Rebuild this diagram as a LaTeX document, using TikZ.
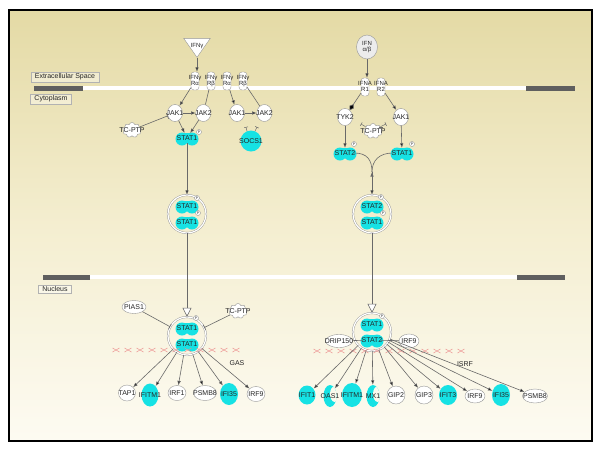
\documentclass[tikz,border=0pt]{standalone}
\usepackage{fontspec}
\setmainfont{Liberation Sans}
\usetikzlibrary{positioning}
\usetikzlibrary{arrows.meta}
\usetikzlibrary{shapes.geometric,shapes.symbols}
\definecolor{hitcyan}{RGB}{22,226,228}
\definecolor{linegray}{RGB}{105,105,105}
\definecolor{shapegray}{RGB}{150,150,150}
\definecolor{membdark}{RGB}{95,95,95}
\definecolor{bgtop}{RGB}{228,218,165}
\definecolor{bgmid}{RGB}{244,238,208}
\definecolor{bgbot}{RGB}{253,251,242}
\definecolor{bite}{RGB}{251,249,236}
\definecolor{dnared}{RGB}{236,140,140}
\pgfdeclarelayer{bg}
\pgfsetlayers{bg,main}
\newcommand{\stack}[2]{\begin{tabular}{@{}c@{}}#1\\#2\end{tabular}}
\renewcommand{\arraystretch}{0.75}
\tikzset{
shp/.style={
  inner sep=0pt,
  draw=shapegray,
  fill=white,
  execute at begin node={\hbox to 0pt\bgroup\hss},
  execute at end node={\hss\egroup}
  },
gene/.style={shp, ellipse, minimum width=18pt, minimum height=15pt},
hit/.style={gene, draw=none, fill=hitcyan},
cresc/.style={hit, minimum width=13pt, minimum height=22pt,
  path picture={\fill[bite] ([xshift=5pt,yshift=2pt]path picture bounding box.center) ellipse (5pt and 8pt);}},
stat/.style={hit, minimum width=18pt, minimum height=10pt},
kin/.style={gene, minimum width=15pt, minimum height=17pt},
recp/.style={shp, rectangle, rounded corners=3pt, minimum width=8pt, minimum height=18pt, font=\fontsize{6}{6}\selectfont},
ptp/.style={shp, cloud, cloud puffs=9, minimum width=19pt, minimum height=15pt},
cytokine/.style={shp, isosceles triangle, shape border rotate=-90, isosceles triangle apex angle=70, minimum width=18pt, minimum height=19pt, font=\fontsize{6}{6}\selectfont},
ligand/.style={shp, ellipse, fill=gray!15, minimum width=21pt, minimum height=24pt, font=\fontsize{6}{6}\selectfont},
cplx/.style={circle, draw=shapegray, double=white, double distance=1.2pt, minimum size=38pt, inner sep=0pt},
phos/.style={circle, draw=shapegray, fill=white, inner sep=0pt, minimum size=5pt, font=\fontsize{3.5}{3.5}\selectfont},
comp/.style={draw=gray!60, fill=white, fill opacity=0.4, text opacity=1, inner xsep=4pt, inner ysep=1.5pt},
site/.style={inner sep=1pt},
act/.style={->, draw=linegray, line width=0.6pt},
inh/.style={-{Bar[width=6pt]}, draw=linegray, line width=0.6pt},
stub/.style={-{Bar[width=4pt]}, draw=linegray, line width=0.5pt},
bind/.style={-, draw=linegray, line width=0.6pt},
trans/.style={-{Triangle[length=9pt, width=9pt, fill=white]}, draw=linegray, line width=0.6pt},
dnax/.style={draw=dnared, line width=0.6pt, draw opacity=0.8},
membrane/.style={draw=shapegray, line width=0.6pt, double=white, double distance=3.5pt},
membend/.style={draw=membdark, line width=5pt}
}

\begin{document}
\begin{tikzpicture}[x=1pt,y=-1pt,>={Latex[length=4.5pt,width=3.5pt]},font=\fontsize{7}{8}\selectfont,text=black!85]
\begin{pgfonlayer}{bg}
\fill[white] (0,0) rectangle (600,451);
\shade[top color=bgtop, bottom color=bgbot, middle color=bgmid] (9,10) rectangle (592,441);
\end{pgfonlayer}
\useasboundingbox (0,0) rectangle (600,451);
\draw[line width=1.1pt] (9,10) rectangle (592,441);

% membranes
\draw[membrane] (34,88) -- (575,88);
\draw[membend] (34,88) -- (83,88);
\draw[membend] (526,88) -- (575,88);
\draw[membrane] (43,277) -- (565,277);
\draw[membend] (43,277) -- (90,277);
\draw[membend] (517,277) -- (565,277);

\node[comp] (ecs)       at (65,77)  {Extracellular Space};
\node[comp] (cytoplasm) at (51,99)  {Cytoplasm};
\node[comp] (nucleus)   at (55,289) {Nucleus};

% IFN-gamma branch
\node[cytokine] (ifng) at (197,46) {IFNγ};
\node[recp] (rga1) at (195,81) {\stack{IFNγ}{Rα}};
\node[recp] (rgb1) at (211,81) {\stack{IFNγ}{Rβ}};
\node[recp] (rga2) at (227,81) {\stack{IFNγ}{Rα}};
\node[recp] (rgb2) at (243,81) {\stack{IFNγ}{Rβ}};
\node[kin]  (jak1a) at (175,113) {JAK1};
\node[kin]  (jak2a) [right=13pt of jak1a] {JAK2};
\node[kin]  (jak1b) at (237,113) {JAK1};
\node[kin]  (jak2b) [right=12pt of jak1b] {JAK2};
\node[ptp]  (tcptp1) at (132,130) {TC-PTP};
\node[stat] (st1a) at (187,138) {STAT1};
\node[hit, minimum width=21pt, minimum height=21pt] (socs1) at (251,141) {SOCS1};
\coordinate (s1l) at (246,127);
\coordinate (s1r) at (257,127);

% IFN-alpha/beta branch
\node[ligand] (ifnab) at (367,47) {\stack{IFN}{α/β}};
\node[recp] (ifnar1) at (365,87) {\stack{IFNA}{R1}};
\node[recp] (ifnar2) at (381,87) {\stack{IFNA}{R2}};
\node[kin]  (tyk2) at (345,117) {TYK2};
\node[kin]  (jak1c) at (401,117) {JAK1};
\node[ptp]  (tcptp2) at (373,131) {TC-PTP};
\coordinate (t2l) at (361,124);
\coordinate (t2r) at (386,124);
\node[stat] (st2a) at (345,153) {STAT2};
\node[stat] (st1b) at (402,153) {STAT1};
\coordinate (mrg) at (372,172);

% dimers in the cytoplasm
\node[cplx] (d1) at (187,214) {};
\node[stat] (d1a) at (187,206) {STAT1};
\node[stat] (d1b) at (187,222) {STAT1};
\node[cplx] (d2) at (372,214) {};
\node[stat] (d2a) at (372,206) {STAT2};
\node[stat] (d2b) at (372,222) {STAT1};

% nucleus, GAS side
\node[cplx] (n1) at (187,336) {};
\node[stat] (n1a) at (187,328) {STAT1};
\node[stat] (n1b) at (187,344) {STAT1};
\node[gene, minimum width=24pt, minimum height=13pt] (pias1) at (134,307) {PIAS1};
\node[ptp] (tcptp3) at (238,311) {TC-PTP};
\node[site] (gas) at (237,363) {GAS};
\node[gene, minimum width=17pt, minimum height=16pt] (tap1) at (127,393) {TAP1};
\node[hit, minimum width=17pt, minimum height=23pt] (ifitm1a) at (150,395) {IFITM1};
\node[gene] (irf1) at (177,393) {IRF1};
\node[gene, minimum width=23pt] (psmb8a) at (205,393) {PSMB8};
\node[hit, minimum width=18pt, minimum height=22pt] (ifi35a) at (229,394) {IFI35};
\node[gene] (irf9a) at (256,394) {IRF9};

% nucleus, ISRE side
\node[cplx] (n2) at (372,332) {};
\node[stat] (n2a) at (372,324) {STAT1};
\node[stat] (n2b) at (372,340) {STAT2};
\node[gene, minimum width=27pt, minimum height=13pt] (drip150) at (339,341) {DRIP150};
\node[gene, minimum width=20pt, minimum height=14pt] (irf9n) at (409,341) {IRF9};
\node[site] (isrf) at (465,364) {ISRF};
\node[hit, minimum width=17pt, minimum height=19pt] (ifit1) at (307,395) {IFIT1};
\node[cresc] (oas1) at (330,396) {OAS1};
\node[hit, minimum width=20pt, minimum height=24pt] (ifitm1b) at (352,395) {IFITM1};
\node[cresc] (mx1) at (373,396) {MX1};
\node[gene, minimum width=18pt, minimum height=18pt] (gip2) at (396,395) {GIP2};
\node[gene, minimum width=18pt, minimum height=18pt] (gip3) at (424,395) {GIP3};
\node[hit, minimum width=18pt, minimum height=20pt] (ifit3) at (448,395) {IFIT3};
\node[gene, minimum width=20pt, minimum height=14pt] (irf9b) at (475,396) {IRF9};
\node[hit, minimum width=18pt, minimum height=22pt] (ifi35b) at (501,395) {IFI35};
\node[gene, minimum width=25pt, minimum height=14pt] (psmb8b) at (535,396) {PSMB8};

% phosphate marks
\node[phos] (p1) at (199,132) {P};
\node[phos] (p2) at (354,144) {P};
\node[phos] (p3) at (412,144) {P};
\node[phos] (p4) at (197,198) {P};
\node[phos] (p5) at (198,213) {P};
\node[phos] (p6) at (381,197) {P};
\node[phos] (p7) at (383,213) {P};
\node[phos] (p8) at (196,318) {P};
\node[phos] (p9) at (382,316) {P};

% second lobe of each STAT
\begin{pgfonlayer}{bg}
\foreach \s in {st1a,st2a,st1b,d1a,d1b,d2a,d2b,n1a,n1b,n2a,n2b}
  \fill[hitcyan] ([xshift=-5pt,yshift=-1pt]\s.center) circle (6.5pt)
                 ([xshift=5pt,yshift=-1pt]\s.center) circle (6.5pt);
\end{pgfonlayer}

% binding sites
\foreach \x in {116,128,...,236}
  \draw[dnax] (\x-3.5,352) -- (\x+3.5,348) (\x-3.5,348) -- (\x+3.5,352);
\foreach \x in {317,329,...,465}
  \draw[dnax] (\x-3.5,353) -- (\x+3.5,349) (\x-3.5,349) -- (\x+3.5,353);

\path[act]
  (ifng) edge (ifng |- rga1.north)
  (rga1) edge (jak1a)
  (rga2) edge (jak1b)
  (jak1a) edge (jak2a)
  (jak1b) edge (jak2b)
  (jak1a) edge (st1a)
  (jak2a) edge (st1a)
  (st1a) edge (d1)
  (ifnab) edge (ifnab |- ifnar1.north)
  (ifnar2) edge (jak1c)
  (tyk2) edge (st2a)
  (jak1c) edge (st1b)
  (mrg) edge (d2)
  ;
\path[bind]
  (rgb1) edge (jak2a)
  (rgb2) edge (jak2b)
  (drip150) edge (n2b)
  (irf9n) edge (n2b)
  ;
\draw[bind] (st2a.east) .. controls +(13,0) and +(0,-12) .. (mrg);
\draw[bind] (st1b.west) .. controls +(-13,0) and +(0,-12) .. (mrg);
\path[-{Diamond[length=7pt,width=5pt]}, draw=linegray, line width=0.6pt]
  (ifnar1) edge (tyk2);
\path[inh]
  (tcptp1) edge (jak1a)
  (pias1) edge (n1)
  (tcptp3) edge (n1)
  ;
\path[stub]
  (socs1.112) edge (s1l)
  (socs1.68) edge (s1r)
  (tcptp2.150) edge (t2l)
  (tcptp2.30) edge (t2r)
  ;
\path[trans]
  (d1) edge (n1)
  (d2) edge (n2)
  ;
\path[act]
  (n1) edge (tap1)
  (n1) edge (ifitm1a)
  (n1) edge (irf1)
  (n1) edge (psmb8a)
  (n1) edge (ifi35a)
  (n1) edge (irf9a)
  (n2) edge (ifit1)
  (n2) edge (oas1)
  (n2) edge (ifitm1b)
  (n2) edge (mx1)
  (n2) edge (gip2)
  (n2) edge (gip3)
  (n2) edge (ifit3)
  (n2) edge (irf9b)
  (n2) edge (ifi35b)
  (n2) edge (psmb8b)
  ;
\end{tikzpicture}
\end{document}
